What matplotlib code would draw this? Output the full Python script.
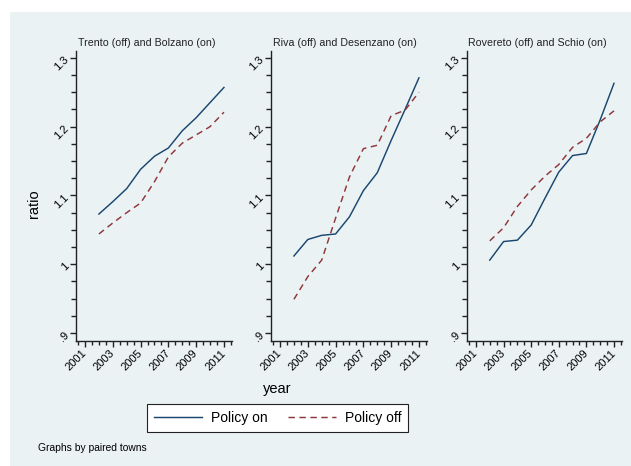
import matplotlib
matplotlib.use("Agg")
import matplotlib.pyplot as plt
from matplotlib.patches import Rectangle
from matplotlib.ticker import MultipleLocator

plt.rcParams['font.family'] = ['Liberation Sans', 'DejaVu Sans']

# data
years = [2002, 2003, 2004, 2005, 2006, 2007, 2008, 2009, 2010, 2011]
titles = ["Trento (off) and Bolzano (on)",
          "Riva (off) and Desenzano (on)",
          "Rovereto (off) and Schio (on)"]
policy_on = [
    [1.073, 1.091, 1.110, 1.138, 1.157, 1.169, 1.194, 1.213, 1.235, 1.257],
    [1.012, 1.036, 1.042, 1.044, 1.069, 1.107, 1.133, 1.180, 1.225, 1.271],
    [1.006, 1.033, 1.035, 1.057, 1.096, 1.134, 1.158, 1.161, 1.210, 1.263],
]
policy_off = [
    [1.044, 1.060, 1.075, 1.089, 1.120, 1.156, 1.176, 1.188, 1.200, 1.221],
    [0.949, 0.982, 1.006, 1.067, 1.127, 1.168, 1.173, 1.216, 1.224, 1.250],
    [1.034, 1.053, 1.084, 1.108, 1.128, 1.145, 1.170, 1.183, 1.207, 1.223],
]
xticks = [2001, 2003, 2005, 2007, 2009, 2011]
yticks = [0.9, 1.0, 1.1, 1.2, 1.3]
ylabels = [".9", "1", "1.1", "1.2", "1.3"]

W, H = 631, 466
bg = '#EAF2F3'
blue = '#1A476F'
red = '#90353B'

fig = plt.figure(figsize=(W / 100, H / 100), dpi=100)
fig.patch.set_facecolor('white')
fig.patches.append(Rectangle((10 / W, 0), 1 - 10 / W, 1 - 12 / H,
                             transform=fig.transFigure, facecolor=bg,
                             edgecolor='none', zorder=-10))

lefts = [76, 271, 467]
widths = [156, 156, 155]
title_x = [147, 345, 537.5]

for i in range(3):
    ax = fig.add_axes([lefts[i] / W, 125 / H, widths[i] / W, 290 / H])
    ax.set_facecolor('none')
    ax.plot(years, policy_on[i], color=blue, lw=1.05, label='Policy on')
    ax.plot(years, policy_off[i], color=red, lw=1.05, dashes=(4.4, 3.1),
            label='Policy off')
    ax.set_xlim(2000.35, 2011.58)
    ax.set_ylim(0.8884, 1.310)
    for s in ['top', 'right']:
        ax.spines[s].set_visible(False)
    for s in ['left', 'bottom']:
        ax.spines[s].set_linewidth(1.0)
        ax.spines[s].set_color('#222222')
    ax.set_xticks(xticks)
    ax.set_xticklabels([str(y) for y in xticks], rotation=45, ha='right',
                       va='center', rotation_mode='anchor', fontsize=8)
    ax.set_yticks(yticks)
    ax.set_yticklabels(ylabels, rotation=45, ha='right', va='center',
                       rotation_mode='anchor', fontsize=8)
    ax.xaxis.set_minor_locator(MultipleLocator(0.5))
    ax.yaxis.set_minor_locator(MultipleLocator(0.025))
    ax.tick_params(axis='x', which='major', length=4.5, width=1.0, pad=3,
                   color='#222222')
    ax.tick_params(axis='x', which='minor', length=3.2, width=1.0,
                   color='#222222')
    ax.tick_params(axis='y', which='major', length=4.5, width=1.0, pad=2,
                   color='#222222')
    ax.tick_params(axis='y', which='minor', length=3.8, width=1.0,
                   color='#222222')
    fig.text(title_x[i] / W, 1 - 42.5 / H, titles[i], fontsize=7.7,
             ha='center', va='center', color='#222222')
    if i == 0:
        handles, labels = ax.get_legend_handles_labels()

fig.text(34 / W, 1 - 204 / H, 'ratio', rotation=90, fontsize=10.5,
         ha='center', va='center')
fig.text(277 / W, 1 - 389 / H, 'year', fontsize=10.5,
         ha='center', va='center')

leg = fig.legend(handles, labels, loc='center',
                 bbox_to_anchor=(277.5 / W, 1 - 418 / H), ncol=2,
                 fontsize=10, handlelength=3.46, handletextpad=0.65,
                 columnspacing=1.44, borderpad=0.5, fancybox=False,
                 framealpha=1, edgecolor='#222222')
leg.get_frame().set_linewidth(0.8)

fig.text(38 / W, 1 - 448 / H, 'Graphs by paired towns', fontsize=7.4,
         ha='left', va='center')

fig.savefig('out.png', dpi=100)
